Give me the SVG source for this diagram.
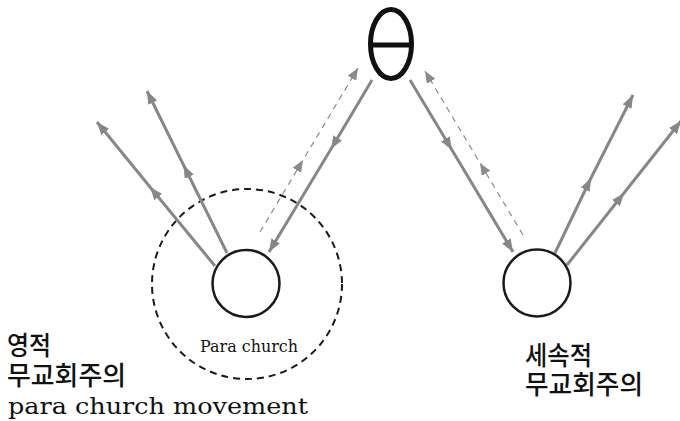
<svg xmlns="http://www.w3.org/2000/svg" width="680" height="421" viewBox="0 0 680 421">
<style>
.solid{fill:none;stroke:#868789;stroke-width:3}
.dash{fill:none;stroke:#8a8b8d;stroke-width:1.2;stroke-dasharray:6 5}
.node{fill:#fff;stroke:#1a1a1a;stroke-width:2.5}
.kr{font-family:"Noto Sans CJK KR","Noto Sans",sans-serif;font-size:26px;font-weight:500;fill:#111}
.en{font-family:"DejaVu Serif","Liberation Serif",serif;fill:#111}
</style>
<defs>
<marker id="ah" viewBox="0 0 13 10" refX="13" refY="5" markerWidth="13" markerHeight="10" markerUnits="userSpaceOnUse" orient="auto">
<path d="M0,0 L13,5 L0,10 z" fill="#868789"/>
</marker>
<marker id="ahd" viewBox="0 0 12 10" refX="12" refY="5" markerWidth="12" markerHeight="10" markerUnits="userSpaceOnUse" orient="auto">
<path d="M0,0 L12,5 L0,10 z" fill="#8a8b8d"/>
</marker>
</defs>
<g id="para-circle">
<circle cx="247" cy="284" r="95" fill="none" stroke="#1a1a1a" stroke-width="2" stroke-dasharray="7 5"/>
<text class="en" x="249" y="352" font-size="17" text-anchor="middle" textLength="98" lengthAdjust="spacingAndGlyphs">Para church</text>
</g>
<g id="connectors">
<path class="solid" d="M215,266 L150,187 L97,122" marker-mid="url(#ah)" marker-end="url(#ah)"/>
<path class="solid" d="M227,253 L183.5,165 L147,91" marker-mid="url(#ah)" marker-end="url(#ah)"/>
<path class="solid" d="M372,80 L331,149 L269,252" marker-mid="url(#ah)" marker-end="url(#ah)"/>
<path class="dash" d="M260,232 L303,160 L358,68" marker-mid="url(#ahd)" marker-end="url(#ahd)"/>
<path class="solid" d="M410,80 L452,150 L513,252" marker-mid="url(#ah)" marker-end="url(#ah)"/>
<path class="dash" d="M523,235 L480,163 L425,71" marker-mid="url(#ahd)" marker-end="url(#ahd)"/>
<path class="solid" d="M555,253 L591,178 L633,95" marker-mid="url(#ah)" marker-end="url(#ah)"/>
<path class="solid" d="M567,265 L624,193 L681,121" marker-mid="url(#ah)" marker-end="url(#ah)"/>
</g>
<g id="theta">
<ellipse cx="391" cy="44" rx="20.5" ry="34.5" fill="none" stroke="#111" stroke-width="5"/>
<line x1="370" y1="45" x2="412" y2="45" stroke="#111" stroke-width="5"/>
</g>
<g id="left-node">
<circle class="node" cx="246" cy="283.5" r="33.5"/>
</g>
<g id="right-node">
<circle class="node" cx="537" cy="283" r="33.5"/>
</g>
<g id="left-label">
<text class="kr" x="7" y="355" textLength="44" lengthAdjust="spacingAndGlyphs">영적</text>
<text class="kr" x="7" y="385" textLength="119" lengthAdjust="spacingAndGlyphs">무교회주의</text>
<text class="en" x="8" y="414" font-size="23" textLength="300" lengthAdjust="spacingAndGlyphs">para church movement</text>
</g>
<g id="right-label">
<text class="kr" x="525" y="365" textLength="67" lengthAdjust="spacingAndGlyphs">세속적</text>
<text class="kr" x="525" y="394" textLength="118" lengthAdjust="spacingAndGlyphs">무교회주의</text>
</g>
</svg>
